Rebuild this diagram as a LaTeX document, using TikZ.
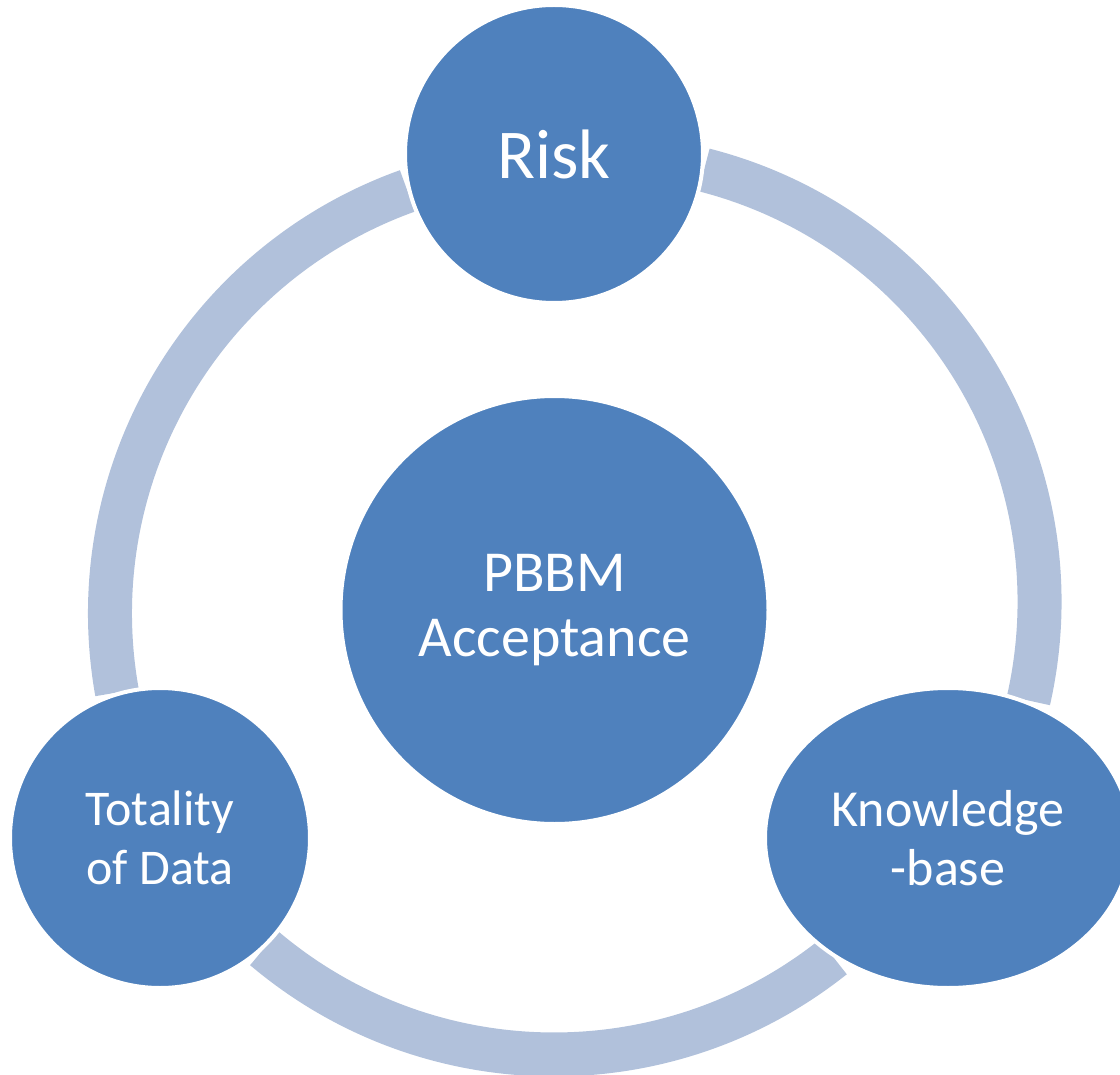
\documentclass[tikz,border=0pt]{standalone}
\usepackage{fontspec}
\setmainfont{Carlito}
\usetikzlibrary{shapes.geometric}
\definecolor{cyclefill}{HTML}{4F81BD}
\definecolor{cyclering}{HTML}{B1C1DB}

\begin{document}
\begin{tikzpicture}[
  x=1pt,
  y=-1pt,
  ring/.style={draw=cyclering,line width=44pt},
  stage/.style={fill=cyclefill,draw=white,line width=4pt,text=white,align=center,inner sep=0pt}
]
  % Page frame, slightly cuts the right-hand ellipse.
  \useasboundingbox (0,0) rectangle (1120,1075);

  % Each ring piece is its own arc, so each gets its own centre.
  \coordinate (hubleft) at (559,613.5);
  \coordinate (hubright) at (593.5,602);
  \coordinate (hubbottom) at (554,606);

  % Ring pieces between the outer stages.
  \draw[ring] (hubright) ++(284.35:446)
    arc[start angle=284.35,end angle=372.76,radius=446];
  \draw[ring] (hubbottom) ++(51.5:448.5)
    arc[start angle=51.5,end angle=130.25,radius=448.5];
  \draw[ring] (hubleft) ++(169.87:449)
    arc[start angle=169.87,end angle=250.27,radius=449];

  % Outer stages.
  \node[stage,circle,minimum size=298pt,font=\fontsize{70}{84}\selectfont]
    (risk) at (554,154) {Risk};
  \node[stage,circle,minimum size=300pt,font=\fontsize{50}{59}\selectfont]
    (totality) at (160,838) {Totality\\of Data};
  \node[stage,ellipse,minimum width=366pt,minimum height=300pt,font=\fontsize{52}{59}\selectfont]
    (knowledge) at (948,838) {Knowledge\\-base};

  % Centre stage.
  \node[stage,circle,minimum size=428pt,font=\fontsize{58}{65}\selectfont]
    (pbbm) at (554.5,610) {PBBM\\Acceptance};
\end{tikzpicture}
\end{document}
